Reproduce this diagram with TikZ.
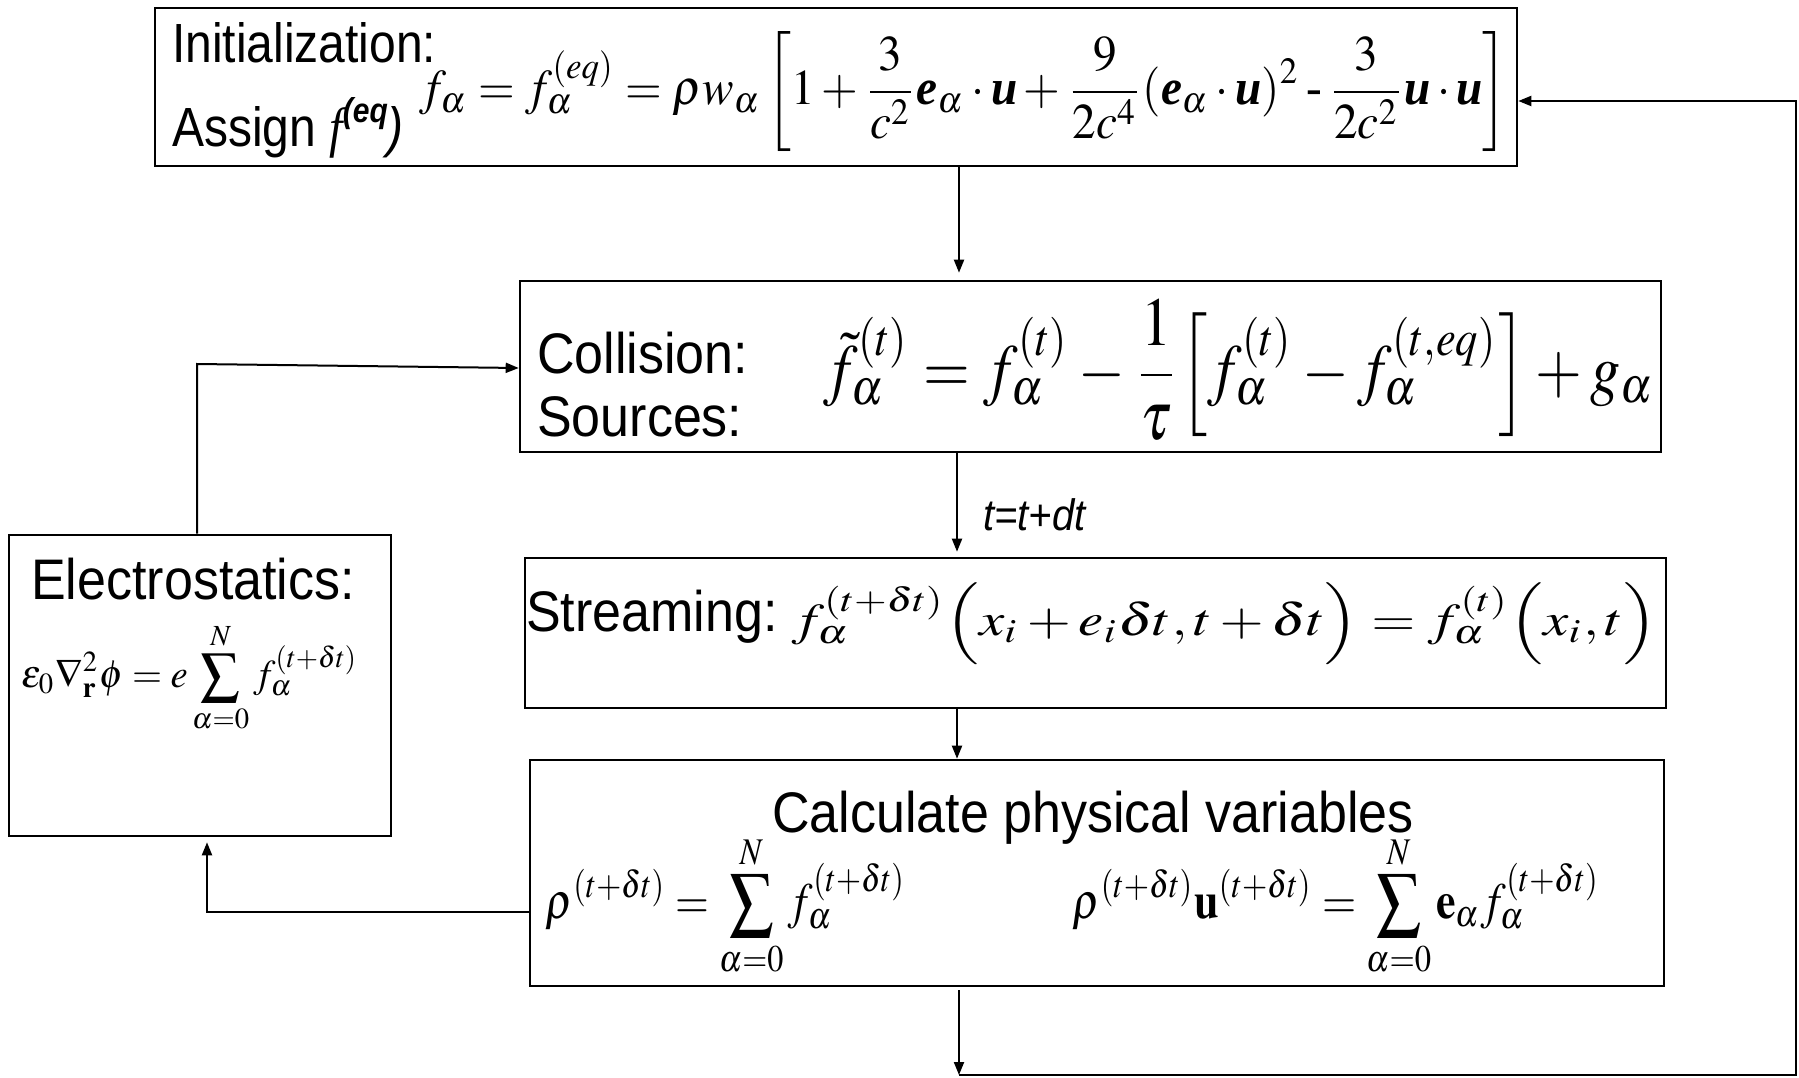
\documentclass[tikz,border=0pt]{standalone}
\usepackage{graphicx}
\usepackage{mathptmx}
\usepackage{amsmath}
\usepackage[no-math]{fontspec}
\setmainfont{Liberation Serif}
\setsansfont{Liberation Sans}
\usetikzlibrary{arrows.meta}
\newcommand{\bvec}[1]{\mbox{\normalfont\bfseries\itshape #1}}
\newcommand{\tallt}[2][1.1]{\scalebox{1}[#1]{#2}}
\newcommand{\fitbox}[3]{\resizebox*{#1}{#2}{$\displaystyle #3$}}
\tikzset{
  box/.style={draw, line width=2.6pt, inner sep=0pt},
  conn/.style={line width=2pt},
  arr/.style={conn, -{Triangle[length=13pt,width=10pt]}},
  lbl/.style={inner sep=0pt, anchor=base west, font=\sffamily\fontsize{52}{60}\selectfont},
  eq/.style={inner sep=0pt, anchor=center},
}
\begin{document}
\begin{tikzpicture}[x=1pt,y=-1pt]
\useasboundingbox (0,0) rectangle (1799,1078);
% boxes
\node[box, minimum width=1362pt, minimum height=158pt] (init) at (836,87) {};
\node[box, minimum width=1141pt, minimum height=171pt] (coll) at (1090.5,366.5) {};
\node[box, minimum width=1141pt, minimum height=150pt] (strm) at (1095.5,633) {};
\node[box, minimum width=1134pt, minimum height=226pt] (calc) at (1097,873) {};
\node[box, minimum width=382pt, minimum height=301pt] (elec) at (200,685.5) {};
% texts
\node[lbl, font=\sffamily\fontsize{48}{56}\selectfont] (tinit) at (172,63) {\tallt[1.15]{Initialization:}};
\node[lbl, font=\sffamily\fontsize{48}{56}\selectfont] (tassign) at (172,147) {\tallt[1.15]{Assign {\rmfamily\itshape f}\raisebox{0.45em}{\fontsize{30}{34}\selectfont\bfseries\itshape (eq}{\itshape)}}};
\node[eq, anchor=west] (eqinit) at (419,92) {\fitbox{1088pt}{120pt}{f_\alpha = f_\alpha^{(eq)} = \rho w_\alpha \left[ 1 + \frac{3}{c^2}\bvec{e}_\alpha\cdot\bvec{u} + \frac{9}{2c^4}(\bvec{e}_\alpha\cdot\bvec{u})^2 \mathbin{\mbox{-}} \frac{3}{2c^2}\bvec{u}\cdot\bvec{u} \right]}};
\node[lbl] (tcoll) at (537,373) {\tallt{Collision:}};
\node[lbl] (tsrc) at (537,436) {\tallt{Sources:}};
\node[eq] (eqcoll) at (1239.5,370) {\fitbox{831pt}{141pt}{\tilde{f}_\alpha^{(t)} = f_\alpha^{(t)} - \frac{1}{\tau}\Bigl[ f_\alpha^{(t)} - f_\alpha^{(t,eq)} \Bigr] + g_\alpha}};
\node[lbl, font=\sffamily\itshape\fontsize{40}{48}\selectfont] (tdt) at (983,530) {\tallt{t=t+dt}};
\node[lbl] (tstrm) at (526,631) {\tallt{Streaming:}};
\node[eq] (eqstrm) at (1224.5,624) {\fitbox{865pt}{82pt}{f_\alpha^{(t+\delta t)}\Bigl(x_i + e_i\delta t, t+\delta t\Bigr) = f_\alpha^{(t)}\Bigl(x_i, t\Bigr)}};
\node[lbl, anchor=base] (tcalc) at (1093,832) {\tallt{Calculate physical variables}};
\node[eq] (eqc1) at (726,906) {\fitbox{360pt}{142pt}{\rho^{(t+\delta t)} = \sum_{\alpha=0}^{N} f_\alpha^{(t+\delta t)}}};
\node[eq] (eqc2) at (1336.5,906) {\fitbox{527pt}{142pt}{\rho^{(t+\delta t)}\mathbf{u}^{(t+\delta t)} = \sum_{\alpha=0}^{N}\mathbf{e}_\alpha f_\alpha^{(t+\delta t)}}};
\node[lbl] (telec) at (31,599) {\tallt{Electrostatics:}};
\node[eq] (eqel) at (190,678) {\fitbox{336pt}{110pt}{\varepsilon_0\nabla_{\mathbf{r}}^2\phi = e\sum_{\alpha=0}^{N} f_\alpha^{(t+\delta t)}}};
% connectors
\coordinate (cx) at (959,0);
\coordinate (cx2) at (957,0);
\draw[arr, shorten >=7pt] (init.south -| cx) -- (coll.north -| cx);
\draw[arr, shorten >=5pt] (coll.south -| cx2) -- (strm.north -| cx2);
\draw[arr] (strm.south -| cx2) -- (calc.north -| cx2);
\coordinate (bl) at (959,1075);
\coordinate (br) at (1796,1075);
\coordinate (tr) at (1796,101);
\draw[arr, shorten <=3pt] (calc.south -| bl) -- (bl);
\draw[arr] (bl) -- (br) -- (tr) -- (init.east |- tr);
\coordinate (lc) at (207,912);
\draw[arr, shorten >=5pt] (calc.west |- lc) -- (lc) -- (elec.south -| lc);
\coordinate (ec) at (197,364);
\coordinate (cin) at (0,368);
\draw[arr] (elec.north -| ec) -- (ec) -- (coll.west |- cin);
\end{tikzpicture}
\end{document}
